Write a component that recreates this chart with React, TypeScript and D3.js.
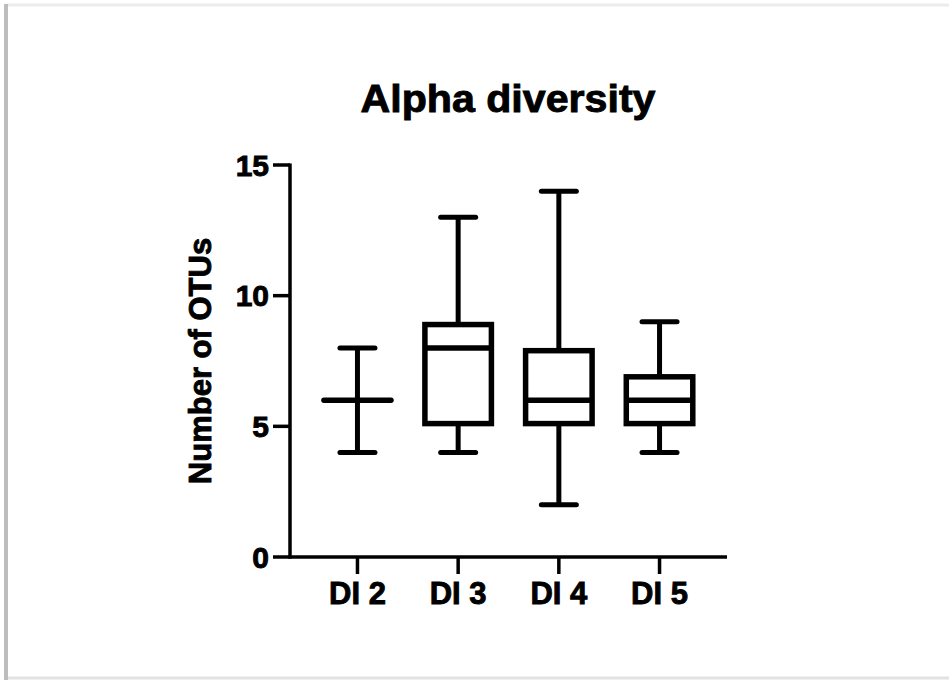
import React from "react";
import * as d3 from "d3";

const groups = ["DI 2", "DI 3", "DI 4", "DI 5"];
const minValues = [4, 4, 2, 4];
const q1Values = [6, 5, 5, 5];
const medianValues = [6, 8, 6, 6];
const q3Values = [6, 9, 8, 7];
const maxValues = [8, 13, 14, 9];
const yTicks = [0, 5, 10, 15];

const width = 949;
const height = 680;
const font = "Liberation Sans, Arial, sans-serif";
// the reference glyphs are heavier than plain bold
const heavy = { stroke: "#000", strokeWidth: 0.9, paintOrder: "stroke" } as const;

const App: React.FC = () => {
  const x = d3.scalePoint<string>().domain(groups).range([290, 727]).padding(0.67);
  const y = d3.scaleLinear().domain([0, 15]).range([557, 165]);

  const boxW = 72;
  const boxStroke = 5.5;
  const capHalf = 17.5;

  return (
    <svg
      width={width}
      height={height}
      style={{ position: "absolute", left: 0, top: 0, background: "#fff" }}
    >
      {/* page frame */}
      <rect x={0} y={0} width={width} height={height} fill="#fff" />
      <line x1={6} x2={width} y1={5} y2={5} stroke="#ececec" strokeWidth={3} />
      <line x1={6} x2={width} y1={678} y2={678} stroke="#e2e2e2" strokeWidth={3} />
      <line x1={6} x2={6} y1={4} y2={680} stroke="#bdbdbd" strokeWidth={4} />

      <text
        x={508}
        y={112}
        textAnchor="middle"
        fontFamily={font}
        fontWeight="bold"
        fontSize={38}
        textLength={295}
        lengthAdjust="spacingAndGlyphs"
        {...heavy}
      >
        Alpha diversity
      </text>

      {/* y axis */}
      <line x1={290} x2={290} y1={y(15) - 1.5} y2={y(0) + 1.5} stroke="#000" strokeWidth={3.5} />
      {yTicks.map((t) => (
        <g key={t}>
          <line x1={273} x2={290} y1={y(t)} y2={y(t)} stroke="#000" strokeWidth={3.5} />
          <text
            x={269}
            y={y(t)}
            dy="0.36em"
            textAnchor="end"
            fontFamily={font}
            fontWeight="bold"
            fontSize={30}
            {...heavy}
          >
            {t}
          </text>
        </g>
      ))}
      <text
        transform={`translate(211,${(y(0) + y(15)) / 2}) rotate(-90)`}
        textAnchor="middle"
        fontFamily={font}
        fontWeight="bold"
        fontSize={31}
        {...heavy}
      >
        Number of OTUs
      </text>

      {/* x axis */}
      <line x1={288.25} x2={727} y1={y(0)} y2={y(0)} stroke="#000" strokeWidth={3.5} />
      {groups.map((g) => (
        <g key={g}>
          <line x1={x(g)!} x2={x(g)!} y1={y(0)} y2={y(0) + 17} stroke="#000" strokeWidth={3.5} />
          <text
            x={x(g)!}
            y={604}
            textAnchor="middle"
            fontFamily={font}
            fontWeight="bold"
            fontSize={31}
            {...heavy}
          >
            {g}
          </text>
        </g>
      ))}

      {/* boxes */}
      {groups.map((g, i) => {
        const cx = x(g)!;
        const top = y(q3Values[i]) + boxStroke / 2;
        const bottom = y(q1Values[i]) - boxStroke / 2;
        const hasBox = q3Values[i] > q1Values[i];
        return (
          <g key={g} stroke="#000" fill="none" strokeWidth={5}>
            <line x1={cx} x2={cx} y1={y(maxValues[i])} y2={hasBox ? top : y(medianValues[i])} />
            <line x1={cx} x2={cx} y1={hasBox ? bottom : y(medianValues[i])} y2={y(minValues[i])} />
            <line
              x1={cx - capHalf}
              x2={cx + capHalf}
              y1={y(maxValues[i])}
              y2={y(maxValues[i])}
              strokeLinecap="round"
            />
            <line
              x1={cx - capHalf}
              x2={cx + capHalf}
              y1={y(minValues[i])}
              y2={y(minValues[i])}
              strokeLinecap="round"
            />
            {hasBox && (
              <rect
                x={cx - boxW / 2 + boxStroke / 2}
                y={top}
                width={boxW - boxStroke}
                height={bottom - top}
                strokeWidth={boxStroke}
                fill="#fff"
              />
            )}
            <line
              x1={cx - boxW / 2 + (hasBox ? boxStroke / 2 : 2.5)}
              x2={cx + boxW / 2 - (hasBox ? boxStroke / 2 : 2.5)}
              y1={y(medianValues[i])}
              y2={y(medianValues[i])}
              strokeWidth={boxStroke}
              strokeLinecap={hasBox ? "butt" : "round"}
            />
          </g>
        );
      })}
    </svg>
  );
};

export default App;
